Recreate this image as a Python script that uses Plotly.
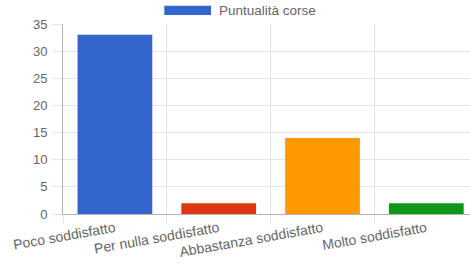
import plotly.graph_objects as go

categories = ["Poco soddisfatto", "Per nulla soddisfatto", "Abbastanza soddisfatto", "Molto soddisfatto"]
values = [33, 2, 14, 2]
colors = ["#3366cc", "#dc3912", "#ff9900", "#109618"]
series_name = "Puntualità corse"

W, H = 470, 266
L, R, T, B = 63, 0, 24, 52
pw = W - L - R
ph = H - T - B

font = dict(family="Liberation Sans, Arial, sans-serif", size=13, color="#666666")

fig = go.Figure()
fig.add_trace(go.Bar(x=categories, y=values, marker=dict(color=colors, line=dict(width=0)),
                     width=0.72, name=series_name, showlegend=False))

grid = "#e6e6e6"
axis = "#b3b3b3"

fig.update_layout(
    width=W, height=H,
    margin=dict(l=L, r=R, t=T, b=B, autoexpand=False),
    paper_bgcolor="white", plot_bgcolor="white",
    font=font,
    xaxis=dict(
        type="category",
        range=[-0.5, -0.5 + pw / 103.8],
        tickson="boundaries",
        ticks="outside", ticklen=8, tickcolor=grid,
        showgrid=True, gridcolor=grid, gridwidth=1,
        showline=True, linecolor=axis, linewidth=1,
        tickangle=-10,
        tickfont=dict(size=14, color="#666666"),
        ticklabelstandoff=0,
        zeroline=False, automargin=False,
    ),
    yaxis=dict(
        range=[0, 35], dtick=5, tick0=0,
        ticks="outside", ticklen=10, tickcolor=grid,
        showgrid=True, gridcolor=grid, gridwidth=1,
        showline=True, linecolor=axis, linewidth=1,
        zeroline=True, zerolinecolor=axis, zerolinewidth=1,
        tickfont=dict(size=13, color="#666666"),
        ticklabelstandoff=2, automargin=False,
    ),
    bargap=0.28,
)

# legend drawn like Chart.js: wide colour box + label
fig.add_shape(type="rect", xref="paper", yref="paper",
              x0=(164.3 - L) / pw, x1=(211 - L) / pw,
              y0=(T + ph - 15) / ph, y1=(T + ph - 5.7) / ph,
              fillcolor=colors[0], line=dict(width=0))
fig.add_annotation(xref="paper", yref="paper", x=(217 - L) / pw, y=(T + ph - 10.3) / ph,
                   xanchor="left", yanchor="middle", showarrow=False,
                   text=series_name, font=dict(size=13.5, color="#666666"))

fig.write_html("out.html", config={"displayModeBar": False},
               post_script="document.body.style.margin='0';document.body.style.overflow='hidden';")
